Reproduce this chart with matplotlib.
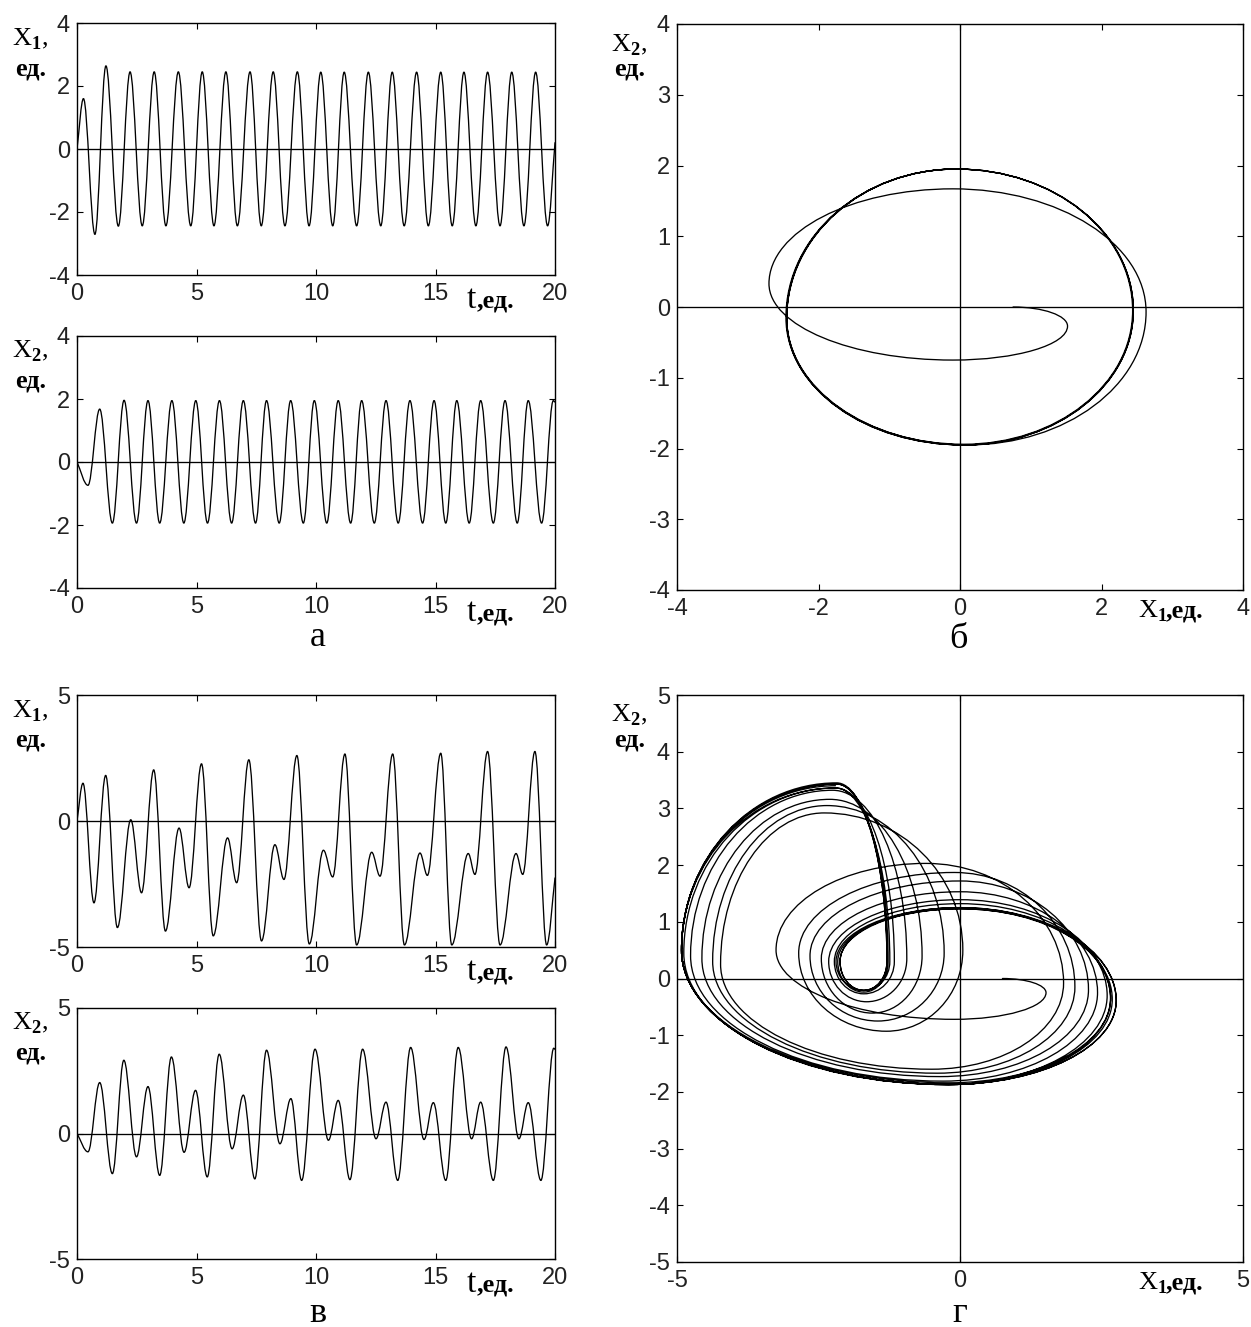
import matplotlib
matplotlib.use("Agg")
import matplotlib.pyplot as plt
from matplotlib.path import Path
from matplotlib.patches import PathPatch

plt.rcParams['font.family'] = ['Liberation Sans', 'DejaVu Sans']
plt.rcParams['mathtext.fontset'] = 'custom'
plt.rcParams['mathtext.rm'] = 'Liberation Serif'
plt.rcParams['mathtext.bf'] = 'Liberation Serif:bold'
plt.rcParams['axes.unicode_minus'] = False

# ---------------------------------------------------------------
# данные: экстремумы (t, значение)
# ---------------------------------------------------------------
# а) x1(t)
A_X1_T = [0.0, 0.27, 0.75,
          1.21, 1.73, 2.22, 2.73, 3.23, 3.72, 4.24, 4.76, 5.24, 5.73,
          6.23, 6.71, 7.24, 7.71, 8.21, 8.70, 9.22, 9.71, 10.20, 10.70,
          11.18, 11.70, 12.19, 12.71, 13.19, 13.69, 14.21, 14.70, 15.22, 15.70,
          16.19, 16.69, 17.18, 17.70, 18.19, 18.70, 19.19, 19.69,
          20.0]
A_X1_V = [0.0, 1.60, -2.71,
          2.64, -2.45, 2.45, -2.44, 2.45, -2.44, 2.45, -2.44, 2.45, -2.44,
          2.45, -2.44, 2.45, -2.44, 2.45, -2.44, 2.45, -2.44, 2.44, -2.44,
          2.44, -2.44, 2.44, -2.44, 2.44, -2.44, 2.44, -2.44, 2.44, -2.44,
          2.44, -2.44, 2.44, -2.44, 2.44, -2.44, 2.44, -2.44,
          0.20]
# а) x2(t)
A_X2_T = [0.0, 0.46, 0.95,
          1.48, 1.97, 2.49, 2.97, 3.46, 3.97, 4.47, 4.97, 5.46, 5.96,
          6.47, 6.96, 7.47, 7.93, 8.46, 8.94, 9.47, 9.93, 10.45, 10.93,
          11.45, 11.91, 12.44, 12.93, 13.44, 13.93, 14.46, 14.94, 15.43, 15.89,
          16.41, 16.89, 17.42, 17.91, 18.42, 18.88, 19.44, 19.93,
          20.0]
A_X2_V = [0.0, -0.74, 1.68,
          -1.94, 1.96, -1.94, 1.95, -1.94, 1.95, -1.94, 1.95, -1.94, 1.95,
          -1.94, 1.95, -1.94, 1.95, -1.94, 1.95, -1.94, 1.95, -1.94, 1.95,
          -1.94, 1.95, -1.94, 1.95, -1.94, 1.95, -1.94, 1.95, -1.94, 1.95,
          -1.94, 1.95, -1.94, 1.95, -1.94, 1.95, -1.94, 1.95,
          1.90]

# в) x1(t)
V_X1_T = [0.0, 0.25, 0.71, 1.20, 1.69,
          2.25, 2.70, 3.21, 3.70,
          4.27, 4.69, 5.21, 5.70,
          6.30, 6.68, 7.19, 7.72,
          8.28, 8.66, 9.20, 9.72,
          10.31, 10.70, 11.21, 11.70,
          12.33, 12.68, 13.21, 13.70,
          14.35, 14.66, 15.22, 15.68,
          16.37, 16.65, 17.18, 17.70,
          18.37, 18.65, 19.16, 19.65,
          20.0]
V_X1_V = [0.0, 1.50, -3.25, 1.81, -4.23,
          0.05, -2.85, 2.03, -4.37,
          -0.28, -2.65, 2.27, -4.56,
          -0.67, -2.45, 2.43, -4.76,
          -0.94, -2.32, 2.60, -4.88,
          -1.16, -2.22, 2.66, -4.92,
          -1.24, -2.19, 2.66, -4.92,
          -1.27, -2.16, 2.69, -4.92,
          -1.29, -2.12, 2.76, -4.92,
          -1.29, -2.12, 2.76, -4.92,
          -2.26]
# в) x2(t)
V_X2_T = [0.0, 0.46, 0.95, 1.48, 1.96,
          2.49, 2.97, 3.46, 3.95,
          4.48, 4.96, 5.45, 5.95,
          6.49, 6.96, 7.44, 7.93,
          8.49, 8.95, 9.40, 9.96,
          10.52, 10.93, 11.42, 11.95,
          12.51, 12.93, 13.42, 13.96,
          14.52, 14.91, 15.43, 15.95,
          16.51, 16.89, 17.42, 17.95,
          18.49, 18.88, 19.41, 19.95,
          20.0]
V_X2_V = [0.0, -0.73, 2.03, -1.60, 2.92,
          -0.93, 1.87, -1.67, 3.05,
          -0.75, 1.72, -1.73, 3.16,
          -0.61, 1.53, -1.81, 3.32,
          -0.41, 1.39, -1.87, 3.36,
          -0.27, 1.32, -1.84, 3.36,
          -0.21, 1.25, -1.87, 3.43,
          -0.24, 1.23, -1.87, 3.43,
          -0.21, 1.25, -1.87, 3.45,
          -0.21, 1.23, -1.87, 3.40,
          3.35]

# б) фазовый портрет: точки экстремумов (x1, x2)
B_X1 = [0.75,
        1.52, -0.10, -2.70, -0.10,
        2.63, 0.10, -2.45, -0.05,
        2.45, 0.05, -2.45, -0.05,
        2.44, 0.05, -2.46, -0.05,
        2.45, 0.05, -2.45, -0.05]
B_X2 = [0.00,
        -0.27, -0.75, 0.33, 1.67,
        -0.07, -1.95, -0.15, 1.95,
        -0.05, -1.95, -0.17, 1.95,
        -0.05, -1.94, -0.15, 1.95,
        -0.05, -1.95, -0.15, 1.95]

# г) фазовый портрет
G_X1 = [0.75,
        1.52, -0.10, -3.25, -0.60, 1.83, -0.50, -4.23, -2.40,
        0.05, -1.30, -2.85, -0.10, 2.03, -0.40, -4.37, -2.35,
        -0.28, -1.45, -2.65, 0.00, 2.27, -0.35, -4.56, -2.30,
        -0.67, -1.55, -2.45, 0.00, 2.43, -0.30, -4.76, -2.25,
        -0.94, -1.65, -2.32, 0.00, 2.60, -0.25, -4.88, -2.20,
        -1.16, -1.70, -2.22, 0.00, 2.66, -0.20, -4.92, -2.20,
        -1.24, -1.70, -2.19, 0.00, 2.66, -0.20, -4.92, -2.18,
        -1.27, -1.70, -2.16, 0.00, 2.69, -0.20, -4.92, -2.18,
        -1.29, -1.70, -2.12, 0.00, 2.76, -0.20, -4.92, -2.18,
        -1.29, -1.70, -2.12, 0.00, 2.76, -0.20, -4.92, -2.20]
G_X2 = [0.00,
        -0.25, -0.72, 0.50, 2.03, -0.08, -1.60, 0.25, 2.92,
        0.50, -0.93, 0.45, 1.87, -0.15, -1.67, 0.30, 3.05,
        0.45, -0.75, 0.40, 1.72, -0.20, -1.73, 0.35, 3.16,
        0.40, -0.61, 0.35, 1.53, -0.25, -1.81, 0.40, 3.32,
        0.35, -0.41, 0.30, 1.39, -0.30, -1.87, 0.45, 3.36,
        0.30, -0.27, 0.30, 1.32, -0.35, -1.84, 0.50, 3.36,
        0.30, -0.21, 0.30, 1.25, -0.35, -1.87, 0.50, 3.43,
        0.30, -0.24, 0.30, 1.23, -0.37, -1.87, 0.50, 3.43,
        0.30, -0.21, 0.30, 1.25, -0.39, -1.87, 0.50, 3.45,
        0.30, -0.21, 0.30, 1.23, -0.39, -1.87, 0.50, 3.40]

# ---------------------------------------------------------------
# стиль / разметка (пиксели исходного рисунка)
# ---------------------------------------------------------------
W, H = 1251, 1327
LW = 0.95
K_TIME = 0.3634     # полуволна косинуса кубической Безье
K_PHASE = 0.5523    # четверть эллипса

BOX = {
    'a1': (77, 23, 555, 275),
    'a2': (77, 336, 555, 588),
    'v1': (77, 695, 555, 947),
    'v2': (77, 1008, 555, 1259),
    'b':  (677, 24, 1243, 590),
    'g':  (677, 695, 1243, 1262),
}


def rect(key):
    l, t, r, b = BOX[key]
    return [l / W, 1 - b / H, (r - l) / W, (b - t) / H]


def fpos(x, y):
    return x / W, 1 - y / H


def handle(kind, x, y, dx, dy, k, s):
    if kind == 'h':
        return (x + s * k * dx, y)
    if kind == 'v':
        return (x, y + s * k * dy)
    return (x + s * dx / 3.0, y + s * dy / 3.0)


def smooth_path(xs, ys, kinds, k):
    verts = [(xs[0], ys[0])]
    codes = [Path.MOVETO]
    for i in range(len(xs) - 1):
        x0, y0, x1, y1 = xs[i], ys[i], xs[i + 1], ys[i + 1]
        dx, dy = x1 - x0, y1 - y0
        verts += [handle(kinds[i], x0, y0, dx, dy, k, 1),
                  handle(kinds[i + 1], x1, y1, dx, dy, k, -1),
                  (x1, y1)]
        codes += [Path.CURVE4] * 3
    return Path(verts, codes)


def draw_curve(ax, xs, ys, kinds, k):
    patch = PathPatch(smooth_path(xs, ys, kinds, k), facecolor='none',
                      edgecolor='black', lw=LW, capstyle='round', joinstyle='round')
    ax.add_patch(patch)


def style_axes(ax, xlim, xticks, ylim, yticks):
    ax.set_xlim(*xlim)
    ax.set_ylim(*ylim)
    ax.set_xticks(xticks)
    ax.set_xticklabels([str(v) for v in xticks])
    ax.set_yticks(yticks)
    ax.set_yticklabels([str(v) for v in yticks])
    ax.tick_params(direction='in', top=True, right=True, length=4, width=0.8,
                   labelsize=17, labelcolor='#222222')
    ax.tick_params(axis='x', pad=6)
    ax.tick_params(axis='y', pad=5)
    for sp in ax.spines.values():
        sp.set_linewidth(1.0)


def ylab(fig, x, y_top, sub, dy1=22, dy2=52):
    fig.text(*fpos(x, y_top + dy1), r'X$_\mathbf{%s}$,' % sub, family='Liberation Serif',
             fontsize=19, ha='left', va='baseline')
    fig.text(*fpos(x + 3, y_top + dy2), 'ед.', family='Liberation Serif',
             fontsize=19, fontweight='bold', ha='left', va='baseline')


def tlab(fig, y_base):
    fig.text(*fpos(467, y_base), 't', family='Liberation Serif', fontsize=24,
             ha='left', va='baseline')
    fig.text(*fpos(477, y_base), ',ед.', family='Liberation Serif', fontsize=19,
             fontweight='bold', ha='left', va='baseline')


fig = plt.figure(figsize=(W / 100, H / 100), dpi=100)

# временные диаграммы
series = [
    ('a1', A_X1_T, A_X1_V, (-4, 4), [-4, -2, 0, 2, 4], '1'),
    ('a2', A_X2_T, A_X2_V, (-4, 4), [-4, -2, 0, 2, 4], '2'),
    ('v1', V_X1_T, V_X1_V, (-5, 5), [-5, 0, 5], '1'),
    ('v2', V_X2_T, V_X2_V, (-5, 5), [-5, 0, 5], '2'),
]
for key, ts, vs, ylim, yt, sub in series:
    ax = fig.add_axes(rect(key))
    ax.axhline(0, color='black', lw=LW)
    kinds = 'l' + 'h' * (len(ts) - 2) + 'l'
    draw_curve(ax, ts, vs, kinds, K_TIME)
    style_axes(ax, (0, 20), [0, 5, 10, 15, 20], ylim, yt)
    l, t, r, b = BOX[key]
    ylab(fig, 12, t, sub)
    tlab(fig, b + 33)

# фазовые портреты
phases = [
    ('b', B_X1, B_X2, 4, [-4, -2, 0, 2, 4], [-4, -3, -2, -1, 0, 1, 2, 3, 4]),
    ('g', G_X1, G_X2, 5, [-5, 0, 5], [-5, -4, -3, -2, -1, 0, 1, 2, 3, 4, 5]),
]
for key, xs, ys, lim, xt, yt in phases:
    ax = fig.add_axes(rect(key))
    ax.axhline(0, color='black', lw=LW)
    ax.axvline(0, color='black', lw=LW)
    kinds = 'h' + 'vh' * ((len(xs) - 1) // 2)
    draw_curve(ax, xs, ys, kinds, K_PHASE)
    style_axes(ax, (-lim, lim), xt, (-lim, lim), yt)
    l, t, r, b = BOX[key]
    ylab(fig, 611, t, '2', dy1=27, dy2=52)
    fig.text(*fpos(1138, b + 28), r'X$_\mathbf{1}$', family='Liberation Serif',
             fontsize=19, ha='left', va='baseline')
    fig.text(*fpos(1166, b + 28), ',ед.', family='Liberation Serif',
             fontsize=19, fontweight='bold', ha='left', va='baseline')

# подписи панелей
for txt, x, y in [('а', 318, 637), ('б', 958, 639), ('в', 318, 1313), ('г', 960, 1313)]:
    fig.text(*fpos(x, y), txt, family='Liberation Serif', fontsize=26,
             ha='center', va='center')

fig.savefig('out.png', dpi=100)
